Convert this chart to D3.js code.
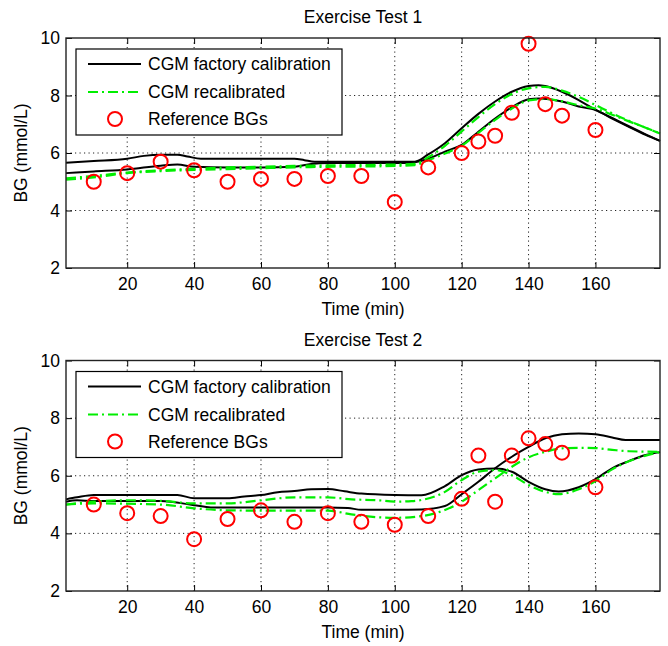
<!DOCTYPE html>
<html lang="en">
<head>
<meta charset="utf-8">
<title>Exercise Tests</title>
<script src="https://cdn.jsdelivr.net/npm/d3@7"></script>
<style>
    body { margin: 0; background: #fff; }
    svg text { font-family: "Liberation Sans", Arial, Helvetica, sans-serif; font-size: 17.5px; fill: #000; }
    .grid line { stroke: #222; stroke-width: 1; stroke-dasharray: 1.2, 3.3; }
    .tick line { stroke: #000; }
</style>
</head>
<body>
<script>
// tick values
var timeTicks = [20, 40, 60, 80, 100, 120, 140, 160];
var bgTicks = [2, 4, 6, 8, 10];
var bgGrid = [4, 6, 8];

// Exercise Test 1 - reference blood glucose samples
var ref1Time = [10, 20, 30, 40, 50, 60, 70, 80, 90, 100, 110, 120, 125, 130, 135, 140, 145, 150, 160];
var ref1BG = [5.0, 5.3, 5.7, 5.4, 5.0, 5.1, 5.1, 5.2, 5.2, 4.3, 5.5, 6.0, 6.4, 6.6, 7.4, 9.8, 7.7, 7.3, 6.8];

// Exercise Test 1 - CGM factory calibration (two sensors)
var fac1aTime = [1.7, 10, 20, 25, 30, 35, 38, 42, 50, 60, 70, 73, 76, 80, 90, 100, 106, 110, 115, 120, 125, 130, 135, 140, 143, 145, 150, 155, 160, 165, 170, 175, 179.3];
var fac1aBG = [5.66, 5.72, 5.8, 5.9, 5.94, 5.94, 5.88, 5.8, 5.8, 5.8, 5.8, 5.75, 5.7, 5.7, 5.7, 5.7, 5.7, 5.95, 6.34, 6.86, 7.36, 7.79, 8.13, 8.33, 8.36, 8.33, 8.13, 7.84, 7.5, 7.22, 6.93, 6.65, 6.42];
var fac1bTime = [1.7, 10, 20, 30, 35, 40, 50, 60, 70, 75, 80, 90, 100, 106, 110, 115, 120, 125, 130, 135, 140, 143, 150, 155, 160, 165, 170, 175, 179.3];
var fac1bBG = [5.3, 5.36, 5.43, 5.56, 5.6, 5.52, 5.5, 5.5, 5.52, 5.62, 5.65, 5.65, 5.65, 5.68, 5.8, 6.05, 6.28, 6.74, 7.2, 7.59, 7.87, 7.9, 7.79, 7.62, 7.5, 7.2, 6.91, 6.63, 6.42];

// Exercise Test 1 - CGM recalibrated
var rec1aTime = [1.7, 10, 20, 30, 40, 50, 60, 70, 80, 90, 100, 106, 110, 115, 120, 125, 130, 135, 140, 145, 150, 155, 160, 165, 170, 175, 179.3];
var rec1aBG = [5.12, 5.2, 5.32, 5.4, 5.45, 5.5, 5.52, 5.55, 5.57, 5.58, 5.6, 5.62, 5.85, 6.25, 6.75, 7.25, 7.7, 8.05, 8.25, 8.3, 8.17, 7.95, 7.67, 7.38, 7.12, 6.88, 6.68];
var rec1bTime = [1.7, 10, 20, 30, 40, 50, 60, 70, 80, 90, 100, 106, 110, 115, 120, 125, 130, 135, 140, 145, 150, 155, 160, 165, 170, 175, 179.3];
var rec1bBG = [5.07, 5.15, 5.3, 5.37, 5.41, 5.44, 5.47, 5.5, 5.52, 5.53, 5.55, 5.58, 5.75, 5.98, 6.25, 6.7, 7.15, 7.55, 7.83, 7.88, 7.8, 7.66, 7.55, 7.33, 7.1, 6.88, 6.68];

// Exercise Test 2 - reference blood glucose samples
var ref2Time = [10, 20, 30, 40, 50, 60, 70, 80, 90, 100, 110, 120, 125, 130, 135, 140, 145, 150, 160];
var ref2BG = [5.0, 4.7, 4.6, 3.8, 4.5, 4.8, 4.4, 4.7, 4.4, 4.3, 4.6, 5.2, 6.7, 5.1, 6.7, 7.3, 7.1, 6.8, 5.6];

// Exercise Test 2 - CGM factory calibration
var fac2aTime = [1.7, 5, 10, 20, 35, 40, 50, 55, 60, 65, 70, 75, 80, 85, 90, 100, 108, 115, 120, 125, 130, 135, 140, 145, 149, 155, 160, 165, 170, 175, 179.3];
var fac2aBG = [5.18, 5.25, 5.33, 5.33, 5.33, 5.22, 5.22, 5.28, 5.33, 5.43, 5.47, 5.53, 5.54, 5.46, 5.38, 5.33, 5.32, 5.64, 6.02, 6.22, 6.25, 6.14, 5.79, 5.53, 5.45, 5.6, 5.88, 6.26, 6.51, 6.72, 6.82];
var fac2bTime = [1.7, 5, 10, 30, 40, 45, 60, 80, 86, 90, 100, 108, 115, 120, 125, 130, 135, 140, 145, 150, 155, 160, 165, 169, 179.3];
var fac2bBG = [5.1, 5.15, 5.12, 5.12, 4.98, 4.9, 4.9, 4.9, 4.88, 4.82, 4.82, 4.83, 4.95, 5.36, 5.79, 6.26, 6.66, 7.0, 7.3, 7.44, 7.47, 7.44, 7.33, 7.24, 7.24];

// Exercise Test 2 - CGM recalibrated
var rec2aTime = [1.7, 10, 20, 30, 40, 50, 60, 70, 80, 87, 95, 100, 105, 108, 115, 120, 125, 130, 135, 140, 145, 149, 155, 160, 165, 170, 175, 179.3];
var rec2aBG = [5.0, 5.1, 5.15, 5.13, 5.04, 5.04, 5.15, 5.25, 5.25, 5.18, 5.15, 5.1, 5.12, 5.16, 5.44, 5.85, 6.14, 6.2, 6.02, 5.68, 5.44, 5.36, 5.53, 5.82, 6.22, 6.5, 6.7, 6.82];
var rec2bTime = [1.7, 10, 30, 40, 50, 60, 70, 80, 87, 95, 100, 108, 115, 120, 125, 130, 135, 140, 145, 150, 155, 160, 165, 170, 179.3];
var rec2bBG = [5.0, 5.04, 5.0, 4.87, 4.8, 4.79, 4.79, 4.79, 4.66, 4.56, 4.54, 4.6, 4.81, 5.1, 5.5, 5.91, 6.31, 6.64, 6.83, 6.95, 6.97, 6.96, 6.9, 6.85, 6.83];

var legendLabels = ["CGM factory calibration", "CGM recalibrated", "Reference BGs"];

var width = 668, height = 646;
var green = "#00ee00", red = "#ff0000";
var dashDot = "10,4,2,4";

var svg = d3.select("body").append("svg")
    .attr("width", width)
    .attr("height", height);

function zip(ts, vs) {
    return ts.map(function(t, i) { return [t, vs[i]]; });
}

var panels = [
    { title: "Exercise Test 1", top: 38, bottom: 268,
      factory: [zip(fac1aTime, fac1aBG), zip(fac1bTime, fac1bBG)],
      recal: [zip(rec1aTime, rec1aBG), zip(rec1bTime, rec1bBG)],
      ref: zip(ref1Time, ref1BG) },
    { title: "Exercise Test 2", top: 360.5, bottom: 591,
      factory: [zip(fac2aTime, fac2aBG), zip(fac2bTime, fac2bBG)],
      recal: [zip(rec2aTime, rec2aBG), zip(rec2bTime, rec2bBG)],
      ref: zip(ref2Time, ref2BG) }
];

var left = 66, right = 660;

panels.forEach(function(p) {
    var x = d3.scaleLinear().domain([1.7, 179.3]).range([left, right]);
    var y = d3.scaleLinear().domain([2, 10]).range([p.bottom, p.top]);
    var g = svg.append("g");

    // dotted grid
    var grid = g.append("g").attr("class", "grid");
    grid.selectAll(".gx").data(timeTicks).enter().append("line")
        .attr("x1", function(d) { return x(d); }).attr("x2", function(d) { return x(d); })
        .attr("y1", p.top).attr("y2", p.bottom);
    grid.selectAll(".gy").data(bgGrid).enter().append("line")
        .attr("x1", left).attr("x2", right)
        .attr("y1", function(d) { return y(d); }).attr("y2", function(d) { return y(d); });

    // axes with inward ticks
    var xAxis = g.append("g").attr("transform", "translate(0," + p.bottom + ")")
        .call(d3.axisBottom(x).tickValues(timeTicks).tickSizeInner(-6).tickSizeOuter(0).tickPadding(9.5));
    g.append("g").attr("transform", "translate(0," + p.top + ")")
        .call(d3.axisTop(x).tickValues(timeTicks).tickSizeInner(-6).tickSizeOuter(0).tickFormat(""));
    var yAxis = g.append("g").attr("transform", "translate(" + left + ",0)")
        .call(d3.axisLeft(y).tickValues(bgTicks).tickSizeInner(-6).tickSizeOuter(0).tickPadding(6));
    g.append("g").attr("transform", "translate(" + right + ",0)")
        .call(d3.axisRight(y).tickValues(bgTicks).tickSizeInner(-6).tickSizeOuter(0).tickFormat(""));
    g.selectAll(".domain").remove();
    g.selectAll(".tick text").attr("font-size", null).attr("font-family", null);

    var line = d3.line()
        .x(function(d) { return x(d[0]); })
        .y(function(d) { return y(d[1]); })
        .curve(d3.curveMonotoneX);

    p.factory.forEach(function(s) {
        g.append("path").datum(s)
            .attr("d", line)
            .attr("fill", "none")
            .attr("stroke", "#000")
            .attr("stroke-width", 2);
    });
    p.recal.forEach(function(s) {
        g.append("path").datum(s)
            .attr("d", line)
            .attr("fill", "none")
            .attr("stroke", green)
            .attr("stroke-width", 2.2)
            .attr("stroke-dasharray", dashDot);
    });

    g.selectAll(".ref").data(p.ref).enter().append("circle")
        .attr("cx", function(d) { return x(d[0]); })
        .attr("cy", function(d) { return y(d[1]); })
        .attr("r", 7)
        .attr("fill", "none")
        .attr("stroke", red)
        .attr("stroke-width", 2);

    // box
    g.append("rect")
        .attr("x", left).attr("y", p.top)
        .attr("width", right - left).attr("height", p.bottom - p.top)
        .attr("fill", "none").attr("stroke", "#222").attr("stroke-width", 1.4);

    // title and labels
    g.append("text")
        .attr("x", (left + right) / 2).attr("y", p.top - 15)
        .attr("text-anchor", "middle")
        .text(p.title);
    g.append("text")
        .attr("x", (left + right) / 2).attr("y", p.bottom + 47)
        .attr("text-anchor", "middle")
        .text("Time (min)");
    g.append("text")
        .attr("transform", "translate(27," + ((p.top + p.bottom) / 2) + ") rotate(-90)")
        .attr("text-anchor", "middle")
        .text("BG (mmol/L)");

    // legend
    var lg = g.append("g").attr("transform", "translate(76," + (p.top + 11) + ")");
    lg.append("rect")
        .attr("width", 266).attr("height", 86)
        .attr("fill", "#fff").attr("stroke", "#000").attr("stroke-width", 1.2);
    var rowY = [15, 43, 70];
    lg.append("line").attr("x1", 12).attr("x2", 65).attr("y1", rowY[0]).attr("y2", rowY[0])
        .attr("stroke", "#000").attr("stroke-width", 2);
    lg.append("line").attr("x1", 12).attr("x2", 65).attr("y1", rowY[1]).attr("y2", rowY[1])
        .attr("stroke", green).attr("stroke-width", 2.2).attr("stroke-dasharray", dashDot);
    lg.append("circle").attr("cx", 39).attr("cy", rowY[2]).attr("r", 7)
        .attr("fill", "none").attr("stroke", red).attr("stroke-width", 2);
    lg.selectAll(".lt").data(legendLabels).enter().append("text")
        .attr("x", 72)
        .attr("y", function(d, i) { return rowY[i] + 6; })
        .text(function(d) { return d; });
});
</script>
</body>
</html>
